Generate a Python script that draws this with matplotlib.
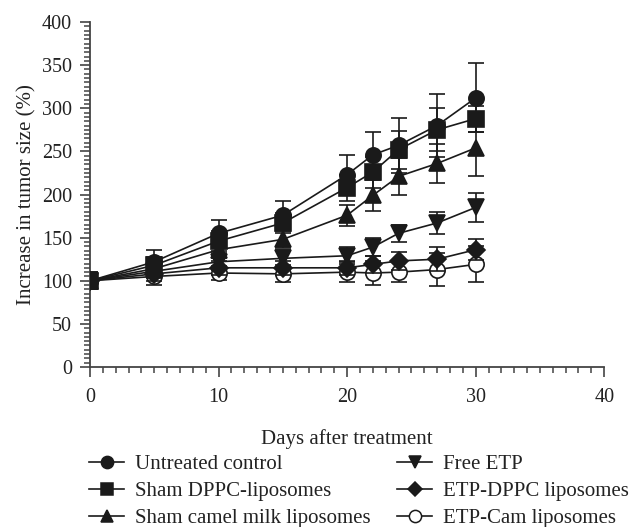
import matplotlib
matplotlib.use("Agg")
import matplotlib.pyplot as plt
from matplotlib.ticker import MultipleLocator

plt.rcParams['font.family'] = ['Liberation Serif', 'DejaVu Serif']

days = [0, 5, 10, 15, 20, 22, 24, 27, 30]

labels = ["Untreated control", "Sham DPPC-liposomes", "Sham camel milk liposomes",
          "Free ETP", "ETP-DPPC liposomes", "ETP-Cam liposomes"]

untreated = [100, 122, 155, 176, 223, 246, 257, 280, 312]
sham_dppc = [100, 118, 146, 167, 208, 226, 252, 275, 288]
sham_camel = [100, 114, 136, 148, 176, 199, 221, 236, 254]
free_etp = [100, 111, 122, 126, 129, 139, 155, 167, 185]
etp_dppc = [100, 108, 115, 115, 115, 119, 123, 125, 136]
etp_cam = [100, 105, 109, 108, 110, 109, 110, 113, 119]

untreated_err = [10, 14, 15, 17, 23, 27, 32, 37, 40]
sham_dppc_err = [8, 10, 12, 12, 15, 18, 22, 25, 15]
sham_camel_err = [8, 8, 10, 10, 12, 18, 21, 23, 33]
free_etp_err = [8, 8, 10, 10, 10, 10, 10, 13, 17]
etp_dppc_err = [8, 8, 8, 8, 8, 10, 10, 14, 12]
etp_cam_err = [10, 10, 8, 10, 12, 14, 12, 19, 21]

series = [untreated, sham_dppc, sham_camel, free_etp, etp_dppc, etp_cam]
errors = [untreated_err, sham_dppc_err, sham_camel_err, free_etp_err, etp_dppc_err, etp_cam_err]
markers = ['o', 's', '^', 'v', 'D', 'o']
faces = ['black', 'black', 'black', 'black', 'black', 'white']
msizes = [11, 11, 11, 11, 9, 11]
zorders = [8, 9, 7, 6, 5, 4]

ink = '#1a1a1a'
fig = plt.figure(figsize=(6.34, 5.27), dpi=100)
ax = fig.add_axes([0.142, 0.3036, 0.811, 0.6546])

handles = []
for vals, err, m, fc, ms, lab, z in zip(series, errors, markers, faces, msizes, labels, zorders):
    face = fc if fc == 'white' else ink
    ax.errorbar(days, vals, yerr=err, color=ink, marker=m, markerfacecolor=face,
                markeredgecolor=ink, markersize=ms, markeredgewidth=1.2, linewidth=1.2,
                elinewidth=1.2, capsize=5.5, capthick=1.2, label=lab, zorder=z)
    h, = ax.plot([], [], color=ink, marker=m, markerfacecolor=face,
                 markeredgecolor=ink, markersize=ms * 0.8, markeredgewidth=1.1, linewidth=1.2)
    handles.append(h)

ax.set_xlim(0, 40)
ax.set_ylim(0, 400)
ax.xaxis.set_major_locator(MultipleLocator(10))
ax.xaxis.set_minor_locator(MultipleLocator(1))
ax.yaxis.set_major_locator(MultipleLocator(50))
ax.yaxis.set_minor_locator(MultipleLocator(5))
ax.tick_params(axis='both', which='major', length=7, width=1.2, direction='out',
               labelsize=14.5, colors='#444444', labelcolor='#222222')
ax.tick_params(axis='x', which='major', pad=8)
ax.tick_params(axis='y', which='major', pad=6)
ax.tick_params(axis='both', which='minor', length=4, width=1.1, direction='out', colors='#444444')
for s in ['top', 'right']:
    ax.spines[s].set_visible(False)
for s in ['left', 'bottom']:
    ax.spines[s].set_linewidth(1.3)
    ax.spines[s].set_color('#444444')

ax.set_xlabel("Days after treatment", fontsize=15, labelpad=16, color='#222222')
ax.set_ylabel("Increase in tumor size (%)", fontsize=15, labelpad=4, color='#222222')

top = 0.137
for hs, ls, xpos in [(handles[:3], labels[:3], 89), (handles[3:], labels[3:], 397)]:
    fig.legend(hs, ls, loc='upper left', bbox_to_anchor=(xpos / 634, top),
               ncol=1, frameon=False, fontsize=15, handlelength=1.7, borderpad=0,
               borderaxespad=0, handletextpad=0.5, labelspacing=0.35, labelcolor='#222222')

fig.savefig("out.png", dpi=100)
